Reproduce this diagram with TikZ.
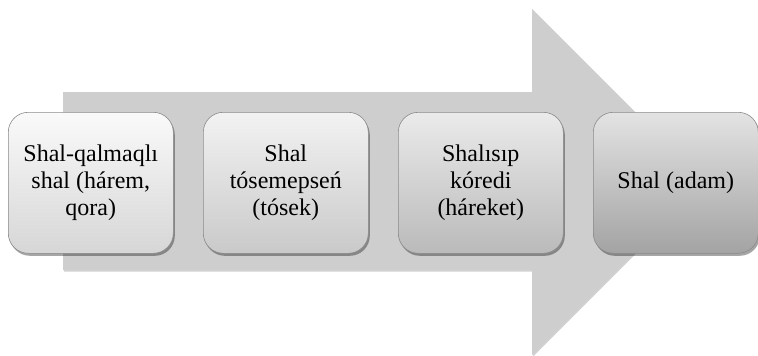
\documentclass[tikz,border=0pt]{standalone}
\usepackage{fontspec}
\setmainfont{Liberation Serif}
\newfontfamily\stagefont{Liberation Serif}
\usetikzlibrary{shadows}
\definecolor{arrowfill}{HTML}{CECECE}
\definecolor{boxline}{HTML}{8A8A8A}
\tikzset{
  stagebox/.style={
    draw=boxline, line width=0.6pt, rounded corners=20pt,
    minimum width=165pt, minimum height=141pt, anchor=north west,
    align=center, inner sep=4pt,
    font=\stagefont\fontsize{24}{27}\selectfont,
    drop shadow={shadow xshift=1.5pt, shadow yshift=-2.5pt, fill=black, opacity=0.35}
  },
  bigarrow/.style={
    fill=arrowfill,
    drop shadow={shadow xshift=1pt, shadow yshift=-1.5pt, fill=black, opacity=0.18}
  }
}
\begin{document}
\begin{tikzpicture}[x=1pt,y=-1pt]
  \useasboundingbox (0,0) rectangle (758,356);
  % wide block arrow behind the stages
  \path[bigarrow] (63,92) -- (532,92) -- (532,9) -- (705,182) -- (532,355)
        -- (532,270) -- (63,270) -- cycle;
  % the four stages, darkening from left to right
  \node[stagebox, top color=white!98!black, bottom color=black!16] (s1) at (8,112)
    {Shal-qalmaqlı\\shal (hárem,\\qora)};
  \node[stagebox, top color=black!5, bottom color=black!21] (s2) at (203,112)
    {Shal\\tósemepseń\\(tósek)};
  \node[stagebox, top color=black!8, bottom color=black!27] (s3) at (398,112)
    {Shalısıp\\kóredi\\(háreket)};
  \node[stagebox, top color=black!11, bottom color=black!36] (s4) at (593,112)
    {Shal (adam)};
\end{tikzpicture}
\end{document}
